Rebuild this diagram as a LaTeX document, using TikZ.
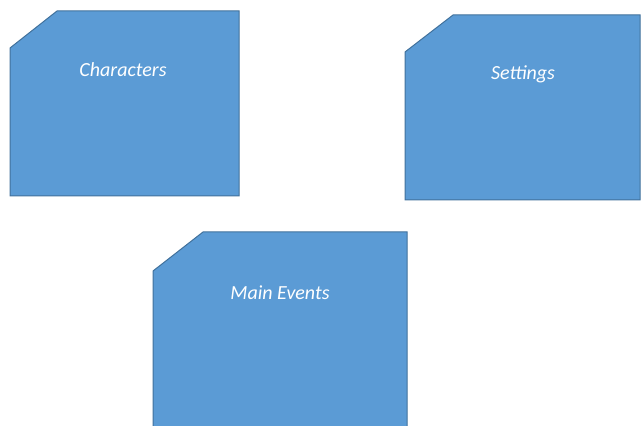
\documentclass[tikz,border=0pt]{standalone}
\usepackage{fontspec}
\setmainfont{Carlito}
\usepackage{tikz}
\definecolor{box_blue}{RGB}{91,155,213}
\definecolor{box_line}{RGB}{65,113,156}
\definecolor{white}{RGB}{255,255,255}

\tikzset{
	storybox/.style={draw=box_line,fill=box_blue,line width=1pt},
	boxtext/.style={text=white,font=\fontsize{20}{24}\selectfont\itshape}
}

\begin{document}
\begin{tikzpicture}[x=1pt,y=1pt]
	\useasboundingbox (0,0) rectangle (641,426);
	% the three boxes, top left corner cut off
	\draw[storybox] (10,378) -- (57,415) -- (239,415) -- (239,230) -- (10,230) -- cycle;
	\draw[storybox] (405,374) -- (453,411) -- (640,411) -- (640,226) -- (405,226) -- cycle;
	\draw[storybox] (153,155) -- (203,194) -- (407,194) -- (407,-3) -- (153,-3) -- cycle;
	
	\node[boxtext] (characters) at (123,356) {Characters};
	\node[boxtext] (settings) at (523,352) {Settings};
	\node[boxtext] (events) at (280,133) {Main Events};
\end{tikzpicture}
\end{document}
